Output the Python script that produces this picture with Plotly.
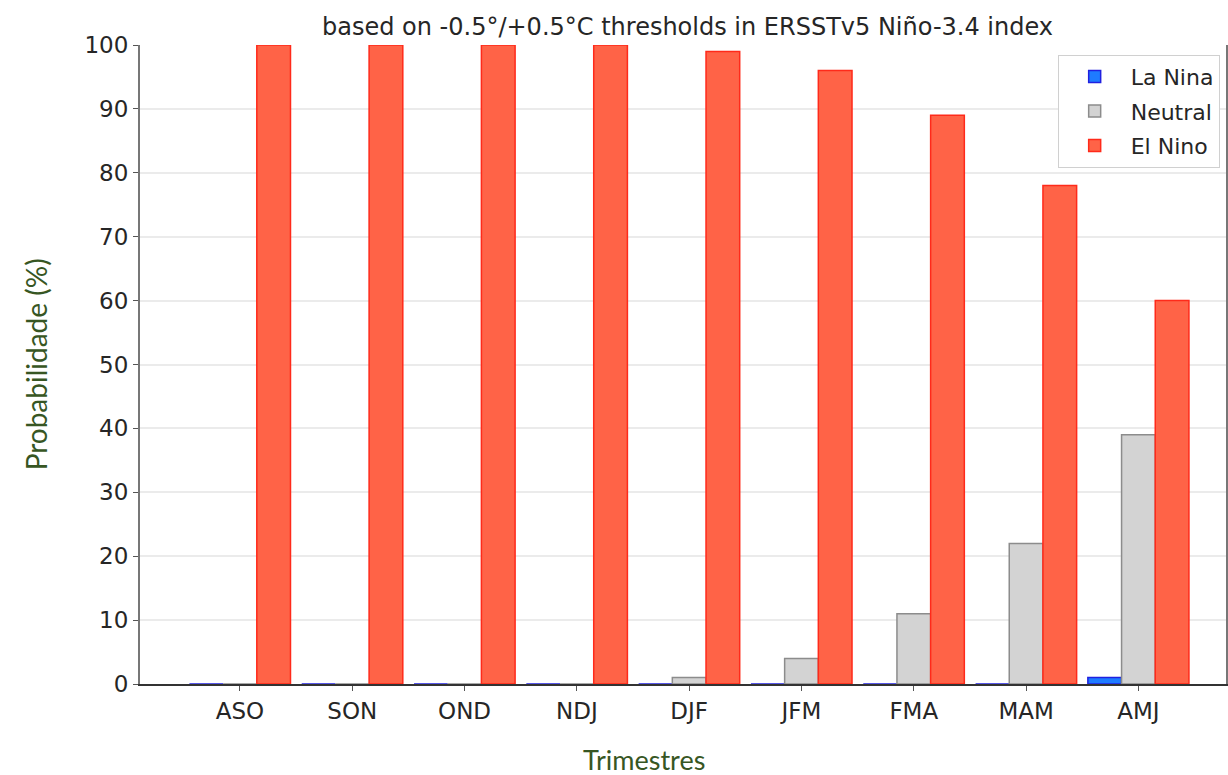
import plotly.graph_objects as go

categories = ["ASO", "SON", "OND", "NDJ", "DJF", "JFM", "FMA", "MAM", "AMJ"]
la_nina = [0, 0, 0, 0, 0, 0, 0, 0, 1]
neutral = [0, 0, 0, 0, 1, 4, 11, 22, 39]
el_nino = [100, 100, 100, 100, 99, 96, 89, 78, 60]
y_ticks = [0, 10, 20, 30, 40, 50, 60, 70, 80, 90, 100]

x_idx = list(range(len(categories)))

fig = go.Figure()
fig.add_trace(go.Bar(x=x_idx, y=la_nina, name="La Nina", legendgroup="a",
                     marker=dict(color="#1E7BFF", line=dict(color="#2020E0", width=1.5))))
fig.add_trace(go.Bar(x=x_idx, y=neutral, name="Neutral", legendgroup="b",
                     marker=dict(color="#D3D3D3", line=dict(color="#8C8C8C", width=1.5))))
fig.add_trace(go.Bar(x=x_idx, y=el_nino, name="El Nino", legendgroup="c",
                     marker=dict(color="#FF6347", line=dict(color="#FF2A1A", width=1.5))))

fig.update_layout(
    width=1228, height=775,
    margin=dict(l=140, r=0, t=45, b=91),
    paper_bgcolor="white", plot_bgcolor="white",
    barmode="group", bargap=0.1, bargroupgap=0,
    font=dict(family="DejaVu Sans", color="#262626"),
    showlegend=True,
    legend=dict(x=0.845, y=0.985, xanchor="left", yanchor="top",
                bgcolor="white", bordercolor="#D0D0D0", borderwidth=1,
                font=dict(size=22, family="DejaVu Sans", color="#262626"),
                itemwidth=62, tracegroupgap=3, traceorder="grouped"),
    xaxis=dict(range=[-0.89, 8.78], tickmode="array", tickvals=x_idx, ticktext=categories,
               tickfont=dict(size=23), ticks="outside", ticklen=5, tickcolor="#555",
               showline=True, linecolor="#333", linewidth=2, showgrid=False, zeroline=False),
    yaxis=dict(range=[0, 100], tickmode="array", tickvals=y_ticks,
               tickfont=dict(size=23), ticks="outside", ticklen=5, tickcolor="#555",
               showline=True, linecolor="#777", linewidth=2, mirror=True,
               showgrid=True, gridcolor="#EBEBEB", gridwidth=1.5, zeroline=False),
)

fig.add_annotation(text="based on -0.5°/+0.5°C thresholds in ERSSTv5 Niño-3.4 index",
                   xref="paper", yref="paper", x=0.5045, y=1.0, yanchor="bottom", yshift=2,
                   showarrow=False, font=dict(size=24, family="DejaVu Sans", color="#262626"))
fig.add_annotation(text="Probabilidade (%)", xref="paper", yref="paper",
                   x=-0.0959, y=0.5, xanchor="center", yanchor="middle", textangle=-90,
                   showarrow=False, font=dict(size=28, family="Lato", color="#375623"))
fig.add_annotation(text="Trimestres", xref="paper", yref="paper",
                   x=(645 - 140) / 1088, y=0, yanchor="middle", yshift=-75,
                   showarrow=False, font=dict(size=27, family="Lato", color="#375623"))

fig.write_html("out.html", config={"displayModeBar": False},
               post_script="document.body.style.margin='0';")
